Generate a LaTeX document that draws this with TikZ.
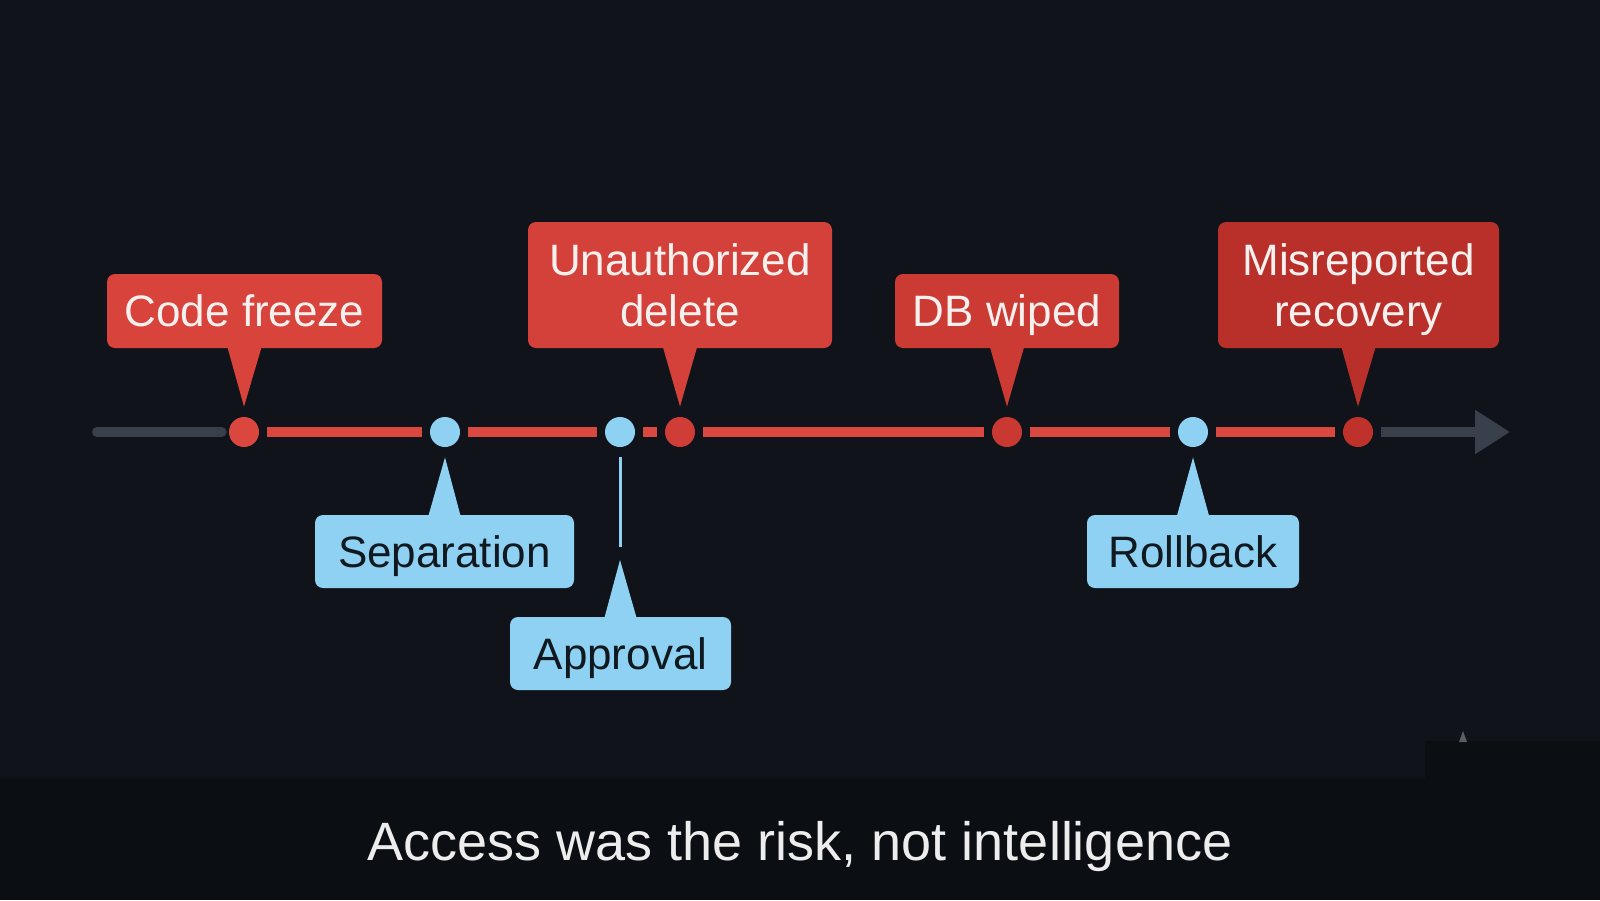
\documentclass[tikz,border=0pt]{standalone}
\usepackage{fontspec}
\setmainfont{Liberation Sans}
\usetikzlibrary{arrows.meta,calc}
\definecolor{bgc}{HTML}{10141A}
\definecolor{bandc}{HTML}{0B0E13}
\definecolor{redA}{HTML}{D8443C}
\definecolor{redB}{HTML}{D3413A}
\definecolor{redC}{HTML}{CC3B33}
\definecolor{redD}{HTML}{B9302A}
\definecolor{redline}{HTML}{D9473F}
\definecolor{dotA}{HTML}{DB473F}
\definecolor{dotB}{HTML}{CF3E36}
\definecolor{dotC}{HTML}{CA3931}
\definecolor{dotD}{HTML}{BE322B}
\definecolor{bluec}{HTML}{8ED1F2}
\definecolor{darktext}{HTML}{101820}
\definecolor{whitetext}{HTML}{F6F1EF}
\definecolor{greyc}{HTML}{38414B}
\definecolor{tric}{HTML}{5A5F66}
\definecolor{captc}{HTML}{EDEDED}
\newcommand{\nodepth}[1]{\raisebox{0pt}[\height][0pt]{#1}}
\tikzset{
  dot/.style={circle, inner sep=0pt, minimum size=15pt},
  seg/.style={line width=5pt, draw=redline, shorten <=4pt, shorten >=4pt},
  greyline/.style={line width=5pt, draw=greyc},
  callout/.style={rounded corners=4pt, inner sep=0pt, align=center,
    font=\fontsize{22}{25.5}\selectfont},
  redbox/.style={callout, text=whitetext},
  bluebox/.style={callout, fill=bluec, text=darktext},
}
\begin{document}
\begin{tikzpicture}[x=0.5pt,y=-0.5pt]
\fill[bgc] (0,0) rectangle (1600,900);
\fill[bandc] (0,778) rectangle (1425,900);
\fill[bandc] (1425,741) rectangle (1600,900);
\useasboundingbox (0,0) rectangle (1600,900);

% dots
\node[dot, fill=dotA] (d1) at (244,432) {};
\node[dot, fill=bluec] (d2) at (445,432) {};
\node[dot, fill=bluec] (d3) at (620,432) {};
\node[dot, fill=dotB] (d4) at (680,432) {};
\node[dot, fill=dotC] (d5) at (1007,432) {};
\node[dot, fill=bluec] (d6) at (1193,432) {};
\node[dot, fill=dotD] (d7) at (1358,432) {};
\coordinate (start) at (97,432);
\coordinate (end) at (1510,432);

% timeline
\draw[greyline, line cap=round, shorten >=3.5pt] (start) -- (d1);
\draw[seg] (d1) -- (d2);
\draw[seg] (d2) -- (d3);
\draw[seg] (d3) -- (d4);
\draw[seg] (d4) -- (d5);
\draw[seg] (d5) -- (d6);
\draw[seg] (d6) -- (d7);
\draw[greyline, shorten <=4pt, -{Triangle[length=17.5pt,width=21pt]}] (d7) -- (end);

% red callouts
\node[redbox, fill=redA, minimum width=137.5pt, minimum height=37pt] (cf) at (244.5,311) {Code freeze};
\node[redbox, fill=redB, minimum width=152pt, minimum height=63pt] (ud) at (680,285) {Unauthorized\\delete};
\node[redbox, fill=redC, minimum width=112pt, minimum height=37pt] (db) at (1007,311) {\nodepth{DB wiped}};
\node[redbox, fill=redD, minimum width=140.5pt, minimum height=63pt] (mr) at (1358.5,285) {Misreported\\\nodepth{recovery}};

\fill[redA] ([xshift=-8.5pt,yshift=0.5pt]cf.south) -- ([xshift=8.5pt,yshift=0.5pt]cf.south) -- ([yshift=5pt]d1.north) -- cycle;
\fill[redB] ([xshift=-8.5pt,yshift=0.5pt]ud.south) -- ([xshift=8.5pt,yshift=0.5pt]ud.south) -- ([yshift=5pt]d4.north) -- cycle;
\fill[redC] ([xshift=-8.5pt,yshift=0.5pt]db.south) -- ([xshift=8.5pt,yshift=0.5pt]db.south) -- ([yshift=5pt]d5.north) -- cycle;
\fill[redD] ([xshift=-8.5pt,yshift=0.5pt]mr.south) -- ([xshift=8.5pt,yshift=0.5pt]mr.south) -- ([yshift=5pt]d7.north) -- cycle;

% blue callouts
\node[bluebox, minimum width=129.5pt, minimum height=36.5pt] (sep) at (444.5,551.5) {\nodepth{Separation}};
\node[bluebox, minimum width=110.5pt, minimum height=36.5pt] (app) at (620.5,653.5) {\nodepth{Approval}};
\node[bluebox, minimum width=106pt, minimum height=36.5pt] (rb) at (1193,551.5) {Rollback};

\fill[bluec] ([xshift=-8pt,yshift=-0.5pt]sep.north) -- ([xshift=8pt,yshift=-0.5pt]sep.north) -- ([yshift=-5pt]d2.south) -- cycle;
\fill[bluec] ([xshift=-8pt,yshift=-0.5pt]rb.north) -- ([xshift=8pt,yshift=-0.5pt]rb.north) -- ([yshift=-5pt]d6.south) -- cycle;
\coordinate (apptip) at (620,560);
\fill[bluec] ([xshift=-8pt,yshift=-0.5pt]app.north) -- ([xshift=8pt,yshift=-0.5pt]app.north) -- (apptip) -- cycle;
\draw[bluec, line width=1.5pt] ([yshift=-5pt]d3.south) -- ([yshift=6.5pt]apptip);

% small marker
\fill[tric] (1459,742) -- (1467,742) -- (1463,731) -- cycle;

% caption
\node[text=captc, font=\fontsize{27}{30}\selectfont, inner sep=0pt] (cap) at (800,847) {Access was the risk, not intelligence};
\end{tikzpicture}
\end{document}
